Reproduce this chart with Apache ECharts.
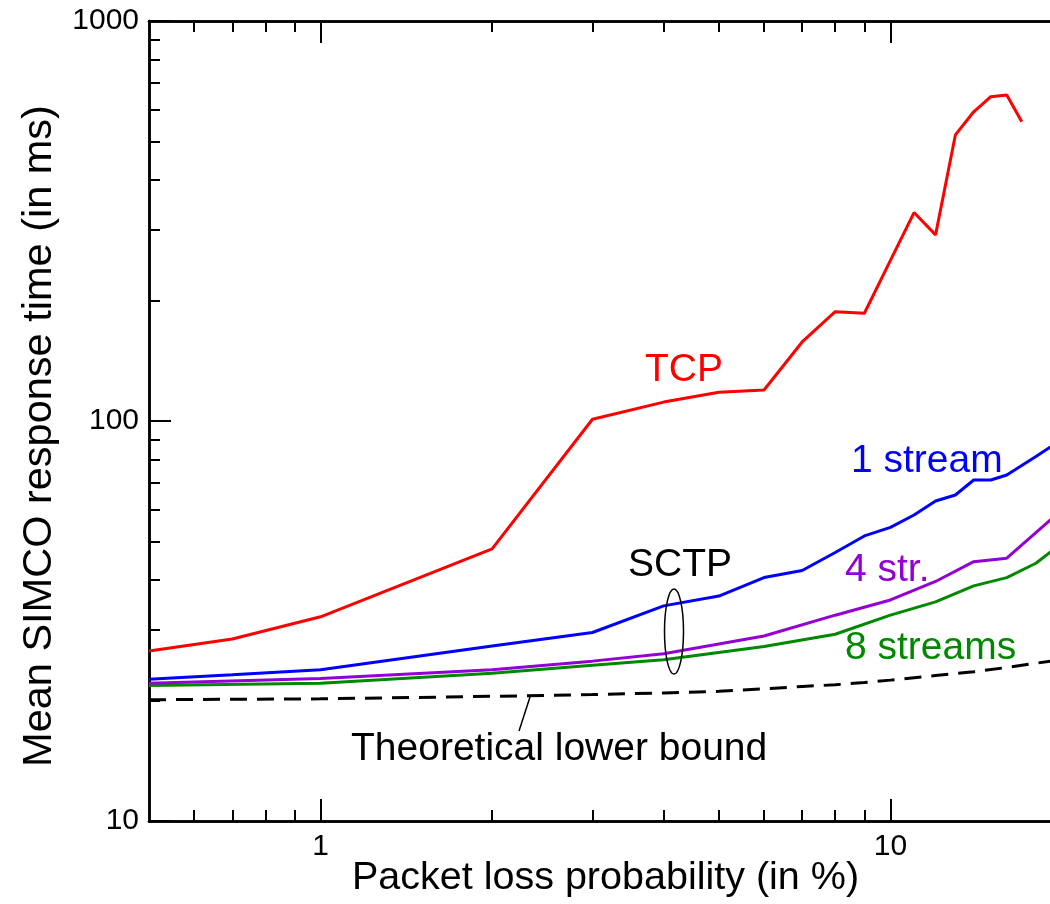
<!DOCTYPE html>
<html>
<head>
<meta charset="utf-8">
<script src="https://cdn.jsdelivr.net/npm/echarts@6/dist/echarts.min.js"></script>
<style>
  html, body { margin: 0; padding: 0; background: #fff; }
  #chart { width: 1050px; height: 904px; }
</style>
</head>
<body>
<div id="chart"></div>
<script>
// ---- data ----
const tcpLoss   = [0.5, 0.7, 1, 2, 3, 4, 5, 6, 7, 8, 9, 10, 11, 12, 13, 14, 15, 16, 17];
const tcpTime   = [26.6, 28.5, 32.4, 47.9, 101, 111.5, 118, 119.5, 157.6, 187.6, 185.9, 252, 332, 292, 519, 593, 647, 653, 560];

const s1Loss    = [0.5, 0.7, 1, 2, 3, 4, 5, 6, 7, 8, 9, 10, 11, 12, 13, 14, 15, 16, 18, 20];
const s1Time    = [22.6, 23.2, 23.9, 27.4, 29.6, 34.5, 36.5, 40.6, 42.3, 46.9, 51.6, 54.2, 58.2, 63.1, 65.3, 71.2, 71.2, 73.3, 81.5, 90];

const s4Loss    = [0.5, 1, 2, 3, 4, 6, 8, 10, 12, 14, 16, 20];
const s4Time    = [22.1, 22.7, 23.9, 25.1, 26.2, 29.0, 32.7, 35.7, 39.7, 44.5, 45.4, 60];

const s8Loss    = [0.5, 1, 2, 3, 4, 6, 8, 10, 12, 14, 16, 18, 20];
const s8Time    = [21.8, 22.1, 23.4, 24.5, 25.3, 27.3, 29.3, 32.7, 35.3, 38.7, 40.6, 44.1, 49.5];

const lbLoss    = [0.5, 1, 2, 3, 4, 5, 6, 7, 8, 9, 10, 12, 14, 16, 18, 20];
const lbTime    = [20.1, 20.2, 20.5, 20.7, 20.9, 21.1, 21.4, 21.7, 21.9, 22.2, 22.5, 23.1, 23.6, 24.2, 24.8, 25.3];

const xMajorTicks = [1, 10];
const xMinorTicks = [0.6, 0.7, 0.8, 0.9, 2, 3, 4, 5, 6, 7, 8, 9];
const yMajorTicks = [10, 100, 1000];
const yMinorTicks = [20, 30, 40, 50, 60, 70, 80, 90, 200, 300, 400, 500, 600, 700, 800, 900];

const xTitle = 'Packet loss probability (in %)';
const yTitle = 'Mean SIMCO response time (in ms)';

// ---- chart ----
const FONT = '"Liberation Sans", Arial, Helvetica, sans-serif';
const zip = (a, b) => a.map((v, i) => [v, b[i]]);

function xAxisDef(position, ticks, len, withLabel) {
  return {
    type: 'log', logBase: 10, min: 0.5, max: 20, position: position,
    axisLine: { show: true, onZero: false, lineStyle: { color: '#000', width: 2.5 } },
    axisTick: { show: true, inside: true, length: len, customValues: ticks, lineStyle: { color: '#000', width: 2 } },
    axisLabel: withLabel ? {
      show: true, customValues: ticks, fontSize: 30, color: '#000', fontFamily: FONT, margin: 11,
      formatter: v => String(Math.round(v))
    } : { show: false },
    minorTick: { show: false }, splitLine: { show: false }
  };
}
function yAxisDef(position, ticks, len, withLabel) {
  return {
    type: 'log', logBase: 10, min: 10, max: 1000, position: position,
    axisLine: { show: true, onZero: false, lineStyle: { color: '#000', width: 2.5 } },
    axisTick: { show: true, inside: true, length: len, customValues: ticks, lineStyle: { color: '#000', width: 2 } },
    axisLabel: withLabel ? {
      show: true, customValues: ticks, fontSize: 30, color: '#000', fontFamily: FONT, margin: 10,
      formatter: v => String(Math.round(v))
    } : { show: false },
    minorTick: { show: false }, splitLine: { show: false }
  };
}

const xMain = xAxisDef('bottom', xMajorTicks, 22, true);
xMain.name = xTitle;
xMain.nameLocation = 'middle';
xMain.nameGap = 37;
xMain.nameMoveOverlap = false;
xMain.nameTextStyle = { fontSize: 39.5, color: '#000', fontFamily: FONT };

const yMain = yAxisDef('left', yMajorTicks, 22, true);
yMain.name = yTitle;
yMain.nameLocation = 'middle';
yMain.nameGap = 88;
yMain.nameMoveOverlap = false;
yMain.nameTextStyle = { fontSize: 41.5, color: '#000', fontFamily: FONT, padding: [0, 30, 0, 0] };

function lineSeries(name, loss, time, color, dashed) {
  return {
    name: name, type: 'line', xAxisIndex: 0, yAxisIndex: 0,
    data: zip(loss, time), showSymbol: false, symbol: 'none', smooth: false,
    lineStyle: dashed
      ? { color: color, width: 3, type: [17, 10] }
      : { color: color, width: 3 },
    z: 3
  };
}

const labelFont = '39px ' + FONT;
function label(text, x, y, color) {
  return { type: 'text', x: x, y: y, z: 10,
    style: { text: text, font: labelFont, fill: color, verticalAlign: 'middle', align: 'left' } };
}

const option = {
  animation: false,
  backgroundColor: '#fff',
  grid: { left: 149, top: 21, bottom: 83, right: -12, outerBoundsMode: 'none', containLabel: false },
  xAxis: [
    xMain,
    xAxisDef('bottom', xMinorTicks, 11, false),
    xAxisDef('top', xMajorTicks, 22, false),
    xAxisDef('top', xMinorTicks, 11, false)
  ],
  yAxis: [
    yMain,
    yAxisDef('left', yMinorTicks, 11, false)
  ],
  series: [
    lineSeries('Theoretical lower bound', lbLoss, lbTime, '#000', true),
    lineSeries('8 streams', s8Loss, s8Time, '#008800', false),
    lineSeries('4 str.', s4Loss, s4Time, '#9400d3', false),
    lineSeries('1 stream', s1Loss, s1Time, '#0000ff', false),
    lineSeries('TCP', tcpLoss, tcpTime, '#ff0000', false)
  ],
  graphic: [
    label('TCP', 645, 370, '#ff0000'),
    label('1 stream', 851, 461, '#0000ff'),
    label('4 str.', 845, 570, '#9400d3'),
    label('8 streams', 845, 648, '#008800'),
    label('SCTP', 628, 565, '#000'),
    label('Theoretical lower bound', 351, 749, '#000'),
    { type: 'ellipse', z: 10, shape: { cx: 674, cy: 631.5, rx: 9.5, ry: 42.5 },
      style: { fill: 'none', stroke: '#000', lineWidth: 1.5 } },
    { type: 'line', z: 10, shape: { x1: 530, y1: 697, x2: 519, y2: 731 },
      style: { stroke: '#000', lineWidth: 1.5 } }
  ]
};

const chart = echarts.init(document.getElementById('chart'), null, { renderer: 'canvas' });
chart.setOption(option);
</script>
</body>
</html>
